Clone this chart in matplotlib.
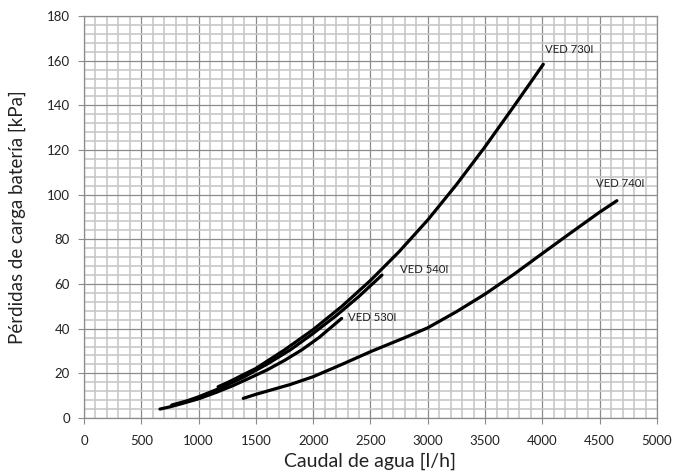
import matplotlib
matplotlib.use("Agg")
import matplotlib.pyplot as plt
from matplotlib.ticker import MultipleLocator

plt.rcParams['font.family'] = ['Lato', 'DejaVu Sans']

# Data
x_530 = [663, 750, 850, 1000, 1150, 1300, 1450, 1600, 1750, 1900, 2050, 2248]
y_530 = [4.0, 5.0, 6.4, 8.6, 11.4, 14.5, 18.0, 21.6, 25.8, 30.5, 36.0, 44.6]

x_540 = [765, 900, 1000, 1200, 1400, 1600, 1800, 2000, 2200, 2400, 2600]
y_540 = [5.8, 7.7, 9.5, 13.6, 18.5, 24.2, 30.5, 37.9, 45.8, 54.5, 64.0]

x_730 = [1170, 1250, 1500, 1750, 2000, 2250, 2500, 2750, 3000, 3250, 3500, 3750, 4008]
y_730 = [14.0, 15.8, 22.2, 30.5, 39.6, 50.0, 61.6, 74.5, 88.7, 104.5, 121.5, 139.5, 158.4]

x_740 = [1390, 1500, 1650, 1800, 2000, 2250, 2500, 2800, 3000, 3250, 3500, 3750, 4000, 4250, 4500, 4650]
y_740 = [8.8, 10.6, 12.8, 15.0, 18.5, 24.0, 29.7, 36.0, 40.4, 47.6, 55.5, 64.3, 73.7, 83.0, 92.2, 97.3]

labels = ["VED 530I", "VED 540I", "VED 730I", "VED 740I"]
label_x = [2304, 2757, 4023, 4468]
label_y = [44.8, 66.3, 164.8, 104.8]

fig = plt.figure(figsize=(6.78, 4.72), dpi=100)
ax = fig.add_axes([0.1239, 0.1144, 0.969 - 0.1239, 0.966 - 0.1144])

ax.set_xlim(0, 5000)
ax.set_ylim(0, 180)
ax.xaxis.set_major_locator(MultipleLocator(500))
ax.xaxis.set_minor_locator(MultipleLocator(100))
ax.yaxis.set_major_locator(MultipleLocator(20))
ax.yaxis.set_minor_locator(MultipleLocator(4))

ax.grid(which='minor', color='#c8c8c8', linewidth=1.2, zorder=0)
ax.grid(which='major', color='#8c8c8c', linewidth=0.9, zorder=1)
ax.set_axisbelow(True)

for xs, ys in [(x_530, y_530), (x_540, y_540), (x_730, y_730), (x_740, y_740)]:
    ax.plot(xs, ys, color='black', linewidth=2.3, solid_capstyle='round',
            solid_joinstyle='round', zorder=3)

for t, lx, ly in zip(labels, label_x, label_y):
    ax.text(lx, ly, t, fontsize=8.2, va='center', ha='left', color='#222222', zorder=4)

for s in ax.spines.values():
    s.set_color('#8c8c8c')
    s.set_linewidth(0.9)

ax.tick_params(which='minor', length=0)
ax.tick_params(which='major', length=4, color='#8c8c8c', labelsize=9.5, labelcolor='#222222', pad=6)
ax.tick_params(axis='x', pad=8)

ax.set_xlabel("Caudal de agua [l/h]", fontsize=14, color='#222222', labelpad=4)
ax.set_ylabel("Pérdidas de carga batería [kPa]", fontsize=13.5, color='#222222', labelpad=15)

fig.savefig("out.png", dpi=100)
